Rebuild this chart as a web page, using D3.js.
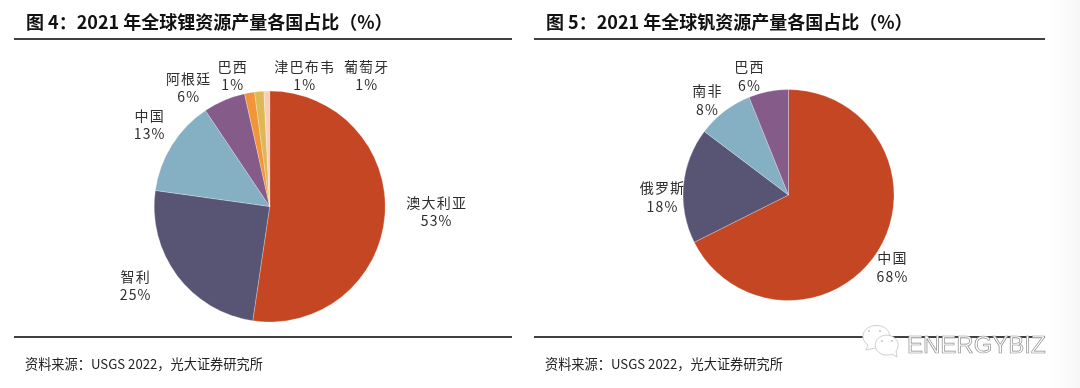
<!DOCTYPE html>
<html>
<head>
<meta charset="utf-8">
<script src="https://cdn.jsdelivr.net/npm/d3@7/dist/d3.min.js"></script>
<style>
  html, body { margin: 0; padding: 0; background: #fff; overflow: hidden; }
  svg { display: block; filter: blur(0.45px); }
  text { font-family: "Noto Sans CJK SC", "Noto Sans", sans-serif; }
</style>
</head>
<body>
<div id="container"></div>
<script>
let w = 1080;
let h = 388;

// left pie: slices, label is what the chart prints
let lithiumNames = ["澳大利亚", "智利", "中国", "阿根廷", "巴西", "津巴布韦", "葡萄牙"];
let lithiumShares = [52.4, 24.9, 13.4, 5.9, 1.4, 1.3, 0.8];
let lithiumLabels = ["53%", "25%", "13%", "6%", "1%", "1%", "1%"];
let lithiumColors = ["#c44622", "#585474", "#85afc3", "#855b8a", "#f29438", "#ddb857", "#fbcdb9"];

// right pie
let vanadiumNames = ["中国", "俄罗斯", "南非", "巴西"];
let vanadiumShares = [67.6, 17.7, 8.6, 6.1];
let vanadiumLabels = ["68%", "18%", "8%", "6%"];
let vanadiumColors = ["#c44622", "#585474", "#85afc3", "#855b8a"];

let svg = d3.select("#container")
  .append("svg")
  .attr("width", w)
  .attr("height", h);

svg.append("rect").attr("width", w).attr("height", h).attr("fill", "#fff");

// faint grey fade on the right edge of the screenshot
let fade = svg.append("defs").append("linearGradient").attr("id", "fade");
fade.append("stop").attr("offset", "0%").attr("stop-color", "#fff");
fade.append("stop").attr("offset", "100%").attr("stop-color", "#f7f7f7");
svg.append("rect").attr("x", 1050).attr("width", 30).attr("height", h).attr("fill", "url(#fade)");

function drawPie(opts) {
  let g = svg.append("g").attr("transform", "translate(" + opts.cx + "," + opts.cy + ")");
  let pie = d3.pie().sort(null)(opts.shares);
  let arc = d3.arc().innerRadius(0).outerRadius(opts.r);

  g.selectAll("path")
    .data(pie)
    .enter()
    .append("path")
    .attr("d", arc)
    .attr("fill", (d, i) => opts.colors[i])
    .attr("stroke", "#fff")
    .attr("stroke-opacity", 0.45)
    .attr("stroke-width", 0.6);

  // label spots, relative to the pie centre
  opts.names.forEach(function (name, i) {
    let p = opts.spots[i];
    let t = svg.append("text")
      .attr("text-anchor", "middle")
      .attr("font-size", 14)
      .attr("letter-spacing", 1.2)
      .attr("fill", "#2e2e2e");
    t.append("tspan").attr("x", opts.cx + p[0]).attr("y", opts.cy + p[1]).text(name);
    t.append("tspan").attr("x", opts.cx + p[0]).attr("y", opts.cy + p[1] + 18.5).text(opts.labels[i]);
  });
}

drawPie({
  cx: 269.7, cy: 206.5, r: 115.5,
  names: lithiumNames, shares: lithiumShares, labels: lithiumLabels, colors: lithiumColors,
  spots: [[167, 1], [-134, 75], [-120, -86], [-81, -123], [-37, -135], [35, -135], [97, -135]]
});

drawPie({
  cx: 788.5, cy: 195, r: 105.5,
  names: vanadiumNames, shares: vanadiumShares, labels: vanadiumLabels, colors: vanadiumColors,
  spots: [[104, 68], [-126, -2], [-81, -99], [-39, -123]]
});

// titles, rules, source lines
let titles = ["图 4：2021 年全球锂资源产量各国占比（%）", "图 5：2021 年全球钒资源产量各国占比（%）"];
let sources = ["资料来源：USGS 2022，光大证券研究所", "资料来源：USGS 2022，光大证券研究所"];
let panelX = [[14, 512, 26], [534, 1045, 546]];

panelX.forEach(function (p, i) {
  svg.append("text")
    .attr("x", p[2]).attr("y", 29)
    .attr("font-size", 18)
    .attr("font-weight", 700)
    .attr("fill", "#111")
    .text(titles[i]);

  [39, 337].forEach(function (y) {
    svg.append("line")
      .attr("x1", p[0]).attr("x2", p[1])
      .attr("y1", y).attr("y2", y)
      .attr("stroke", "#000")
      .attr("stroke-width", 1.6);
  });

  svg.append("text")
    .attr("x", p[2] - 1).attr("y", 369)
    .attr("font-size", 13.2)
    .attr("fill", "#222")
    .text(sources[i]);
});

// wechat watermark
let mark = svg.append("g")
  .attr("fill", "#fff")
  .attr("stroke", "#cfcfcf")
  .attr("stroke-width", 1);
mark.append("path").attr("d", "M 866 350 L 868 345 A 13.5 11 0 1 1 880 347 Z");
mark.append("path").attr("d", "M 897 357 L 892 354 A 11.5 10 0 1 1 896 351 Z");
[[869, 331], [880, 331], [882, 341], [892, 341]].forEach(function (c) {
  svg.append("circle").attr("cx", c[0]).attr("cy", c[1]).attr("r", 1.1).attr("fill", "#c8c8c8");
});

svg.append("text")
  .attr("x", 907).attr("y", 353)
  .attr("font-size", 24)
  .attr("fill", "#fff")
  .attr("stroke", "#8f8f8f")
  .attr("stroke-width", 0.7)
  .style("font-family", "'Liberation Sans'")
  .text("ENERGYBIZ");
</script>
</body>
</html>
